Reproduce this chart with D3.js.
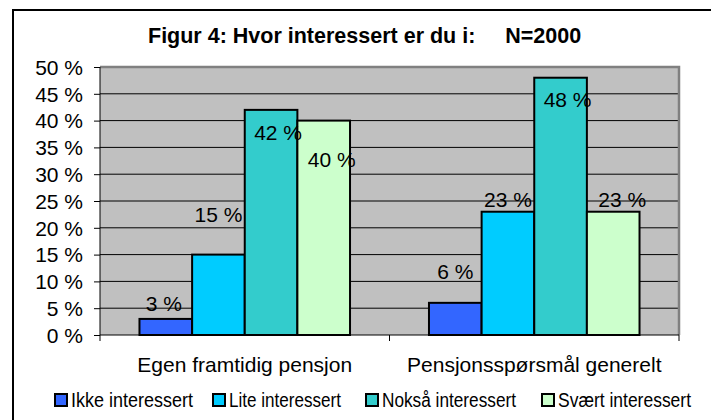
<!DOCTYPE html>
<html>
<head>
<meta charset="utf-8">
<script src="https://cdn.jsdelivr.net/npm/d3@7"></script>
<style>
  body { margin: 0; background: #ffffff; }
  text { font-family: Arial, "Liberation Sans", sans-serif; fill: #000; }
</style>
</head>
<body>
<div id="chart"></div>
<script>
// data
const categories = ["Egen framtidig pensjon", "Pensjonsspørsmål generelt"];
const seriesNames = ["Ikke interessert", "Lite interessert", "Nokså interessert", "Svært interessert"];
const ikke = [3, 6];
const lite = [15, 23];
const noksa = [42, 48];
const svaert = [40, 23];
const yTicks = [0, 5, 10, 15, 20, 25, 30, 35, 40, 45, 50];

const colors = ["#3366ff", "#00ccff", "#33cccc", "#ccffcc"];
// excel label nudges [dx, dy] per series, per category
const labelNudge = [
  [[-2, -8], [0, -24]],
  [[0, -33], [0, -5]],
  [[7, 30], [7, 29]],
  [[8, 46], [9, -5]]
];

const W = 711, H = 420;
const plot = { left: 100, top: 67, right: 679, bottom: 335 };

const svg = d3.select("#chart").append("svg")
  .attr("width", W).attr("height", H);

// outer frame (runs off the right/bottom of the picture)
svg.append("rect")
  .attr("x", 13).attr("y", 10)
  .attr("width", 720).attr("height", 430)
  .attr("fill", "#fff").attr("stroke", "#000").attr("stroke-width", 2);

svg.append("text")
  .attr("x", 148).attr("y", 43)
  .attr("xml:space", "preserve")
  .style("white-space", "pre")
  .style("font-weight", "bold")
  .style("font-size", "21.5px")
  .text("Figur 4: Hvor interessert er du i:     N=2000");

const y = d3.scaleLinear().domain([0, 50]).range([plot.bottom, plot.top]);
const x0 = d3.scaleBand().domain(categories).range([plot.left, plot.right]).paddingInner(0).paddingOuter(0);
const x1 = d3.scaleBand().domain(seriesNames).range([0, x0.bandwidth()]).paddingInner(0).paddingOuter(0.75);

// plot background
svg.append("rect")
  .attr("x", plot.left).attr("y", plot.top)
  .attr("width", plot.right - plot.left).attr("height", plot.bottom - plot.top)
  .attr("fill", "#c0c0c0");

// gridlines
svg.append("g").selectAll("line")
  .data(yTicks.slice(1))
  .enter().append("line")
  .attr("x1", plot.left).attr("x2", plot.right)
  .attr("y1", d => y(d)).attr("y2", d => y(d))
  .attr("stroke", "#000").attr("stroke-width", 1);

// plot border top/right
svg.append("path")
  .attr("d", `M${plot.left},${plot.top}H${plot.right}V${plot.bottom}`)
  .attr("fill", "none").attr("stroke", "#808080").attr("stroke-width", 2.5);

// y axis
const yAxis = svg.append("g")
  .attr("transform", `translate(${plot.left},0)`)
  .call(d3.axisLeft(y).tickValues(yTicks).tickSize(6).tickPadding(11).tickFormat(d => d + " %"));
yAxis.selectAll("text").style("font-size", "21px").attr("dy", "0.35em");
yAxis.selectAll("line").attr("stroke", "#000");
yAxis.select(".domain").attr("stroke", "#000").attr("d", `M0,${plot.top}V${plot.bottom}`);

// x axis
const xAxis = svg.append("g")
  .attr("transform", `translate(0,${plot.bottom})`);
xAxis.append("line")
  .attr("x1", plot.left).attr("x2", plot.right)
  .attr("stroke", "#000").attr("stroke-width", 1.2);
xAxis.selectAll(".tk")
  .data([plot.left, ...categories.map(c => x0(c) + x0.bandwidth())])
  .enter().append("line")
  .attr("x1", d => d).attr("x2", d => d)
  .attr("y1", 0).attr("y2", 6)
  .attr("stroke", "#000");
xAxis.selectAll(".cat")
  .data(categories)
  .enter().append("text")
  .attr("x", d => x0(d) + x0.bandwidth() / 2)
  .attr("y", 37)
  .attr("text-anchor", "middle")
  .style("font-size", "21px")
  .text(d => d);

// bars
const seriesValues = [ikke, lite, noksa, svaert];
const barData = [];
seriesValues.forEach((vals, s) => {
  vals.forEach((v, c) => barData.push({ s, c, v }));
});

const bars = svg.append("g");
bars.selectAll("rect")
  .data(barData)
  .enter().append("rect")
  .attr("x", d => x0(categories[d.c]) + x1(seriesNames[d.s]))
  .attr("y", d => y(d.v))
  .attr("width", x1.bandwidth())
  .attr("height", d => y(0) - y(d.v))
  .attr("fill", d => colors[d.s])
  .attr("stroke", "#000").attr("stroke-width", 2);

bars.selectAll("text")
  .data(barData)
  .enter().append("text")
  .attr("x", d => x0(categories[d.c]) + x1(seriesNames[d.s]) + x1.bandwidth() / 2 + labelNudge[d.s][d.c][0])
  .attr("y", d => y(d.v) + labelNudge[d.s][d.c][1])
  .attr("text-anchor", "middle")
  .style("font-size", "21px")
  .text(d => d.v + " %");

// legend (narrow font look via textLength)
const legendX = [54, 212, 365, 541];
const legendLen = [122, 112, 134, 133];
const legend = svg.append("g").selectAll("g")
  .data(seriesNames)
  .enter().append("g")
  .attr("transform", (d, i) => `translate(${legendX[i]},393)`);
legend.append("rect")
  .attr("x", 1).attr("y", 1)
  .attr("width", 12).attr("height", 12)
  .attr("fill", (d, i) => colors[i])
  .attr("stroke", "#000").attr("stroke-width", 2);
legend.append("text")
  .attr("x", 17).attr("y", 14)
  .attr("textLength", (d, i) => legendLen[i])
  .attr("lengthAdjust", "spacingAndGlyphs")
  .style("font-size", "20px")
  .text(d => d);
</script>
</body>
</html>
